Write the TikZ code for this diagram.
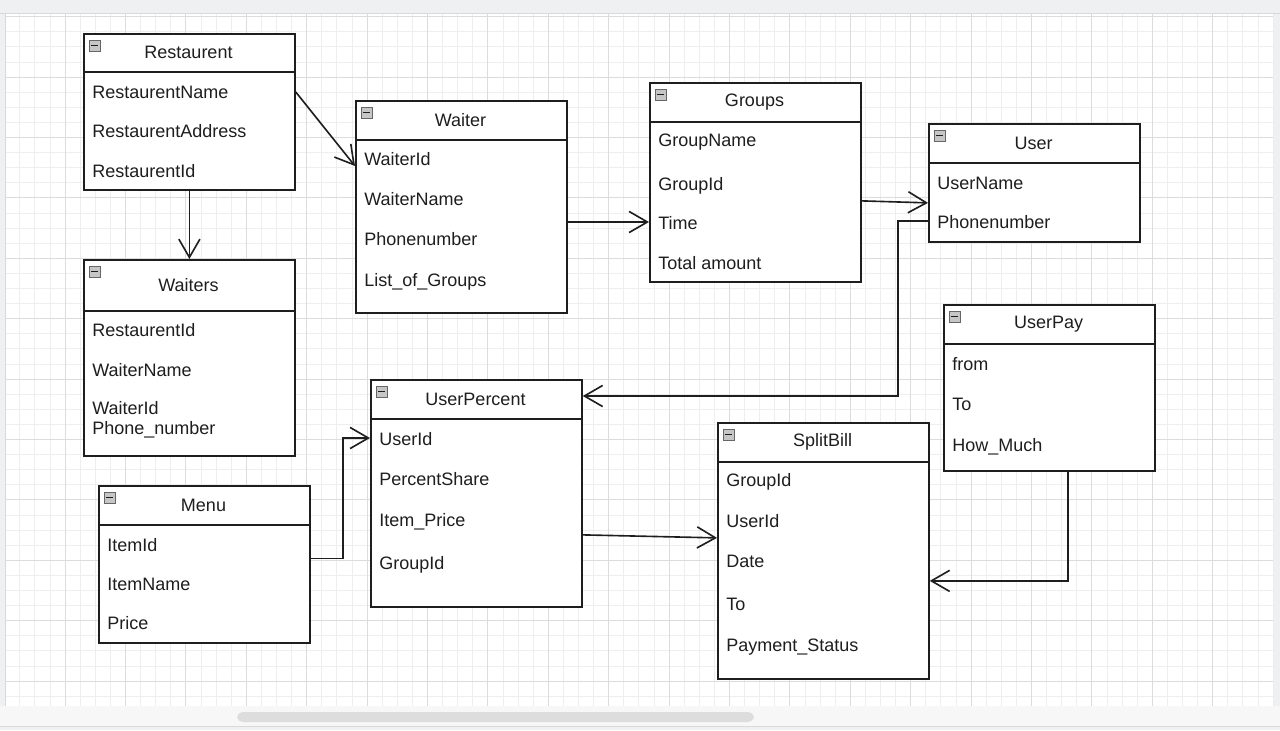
\documentclass[tikz,border=0pt]{standalone}
\usepackage{fontspec}
\setmainfont{Liberation Sans}
\usetikzlibrary{arrows.meta,calc}
\definecolor{frame}{HTML}{EFF0F2}
\definecolor{frameline}{HTML}{D8D9DB}
\definecolor{gridminor}{HTML}{EEEEEE}
\definecolor{gridmajor}{HTML}{DCDCDC}
\definecolor{ink}{HTML}{1E1E1E}
\definecolor{thumb}{HTML}{DDDDDD}
\tikzset{
  umlb/.style={draw=ink, line width=1.25pt, fill=white, inner sep=0pt},
  boxline/.style={draw=ink, line width=1.25pt},
  ttl/.style={font=\fontsize{12.8}{15}\selectfont, text=ink, inner sep=0pt},
  fld/.style={font=\fontsize{12.8}{15}\selectfont, text=ink, inner sep=0pt, anchor=west, align=left},
  icon/.style={draw=gray!80!black, fill=gray!45, line width=0.4pt},
  icondash/.style={draw=ink, line width=1pt},
  conn/.style={draw=ink, line width=1.15pt, -{Straight Barb[length=13pt,width=15pt,line width=1.15pt]}},
}
\newcommand\umlbox[7]{% name, x, y, w, h, title, header height
  \node[umlb, minimum width=#4*0.025cm, minimum height=#5*0.025cm, anchor=north west] (#1) at (#2,#3) {};
  \draw[boxline] (#2,#3+#7) -- (#2+#4,#3+#7);
  \node[ttl] (#1-t) at (#2+#4/2,#3+#7/2) {#6};
  \draw[icon] (#2+6,#3+7) rectangle (#2+17,#3+18);
  \draw[icondash] (#2+8,#3+12.5) -- (#2+15,#3+12.5);
}
\begin{document}
\begin{tikzpicture}[x=0.025cm,y=-0.025cm]
\useasboundingbox (0,0) rectangle (1280,730);
\fill[frame] (0,0) rectangle (1280,730);
\fill[white] (5,14) rectangle (1273,706);
% grid
\begin{scope}
\clip (5,14) rectangle (1273,706);
\foreach \i in {0,...,85} {
  \pgfmathsetmacro\xx{4.6+15.1*\i}
  \pgfmathtruncatemacro\m{mod(\i,4)}
  \ifnum\m=0\else \draw[gridminor, line width=0.5pt] (\xx,14) -- (\xx,706);\fi
}
\foreach \i in {0,...,47} {
  \pgfmathsetmacro\yy{16.6+15.1*\i}
  \pgfmathtruncatemacro\m{mod(\i,4)}
  \ifnum\m=0\else \draw[gridminor, line width=0.5pt] (5,\yy) -- (1273,\yy);\fi
}
\foreach \i in {0,...,21} {
  \pgfmathsetmacro\xx{4.6+60.4*\i}
  \draw[gridmajor, line width=0.5pt] (\xx,14) -- (\xx,706);
}
\foreach \i in {0,...,11} {
  \pgfmathsetmacro\yy{16.6+60.4*\i}
  \draw[gridmajor, line width=0.5pt] (5,\yy) -- (1273,\yy);
}
\end{scope}
\draw[frameline, line width=0.6pt] (0,13) -- (1280,13);
\draw[frameline, line width=0.6pt] (5,14) -- (5,706);
\fill[white!97!black] (0,706) rectangle (1280,726);
\draw[frameline, line width=0.6pt] (0,726) -- (1280,726);
\fill[thumb, rounded corners=4] (237,712) rectangle (754,722);

% boxes
\umlbox{rest}{83}{33}{211}{156}{Restaurent}{39}
\node[fld] (r1) at (92,92) {RestaurentName};
\node[fld] (r2) at (92,131) {RestaurentAddress};
\node[fld] (r3) at (92,171) {RestaurentId};

\umlbox{waiters}{83}{259}{211}{196}{Waiters}{52}
\node[fld] (ws1) at (92,330) {RestaurentId};
\node[fld] (ws2) at (92,370) {WaiterName};
\node[fld, anchor=north west] (ws3) at (92,401) {WaiterId\\[-0.5pt]Phone\_number};

\umlbox{waiter}{355}{100}{211}{212}{Waiter}{40}
\node[fld] (w1) at (364,159) {WaiterId};
\node[fld] (w2) at (364,199) {WaiterName};
\node[fld] (w3) at (364,239) {Phonenumber};
\node[fld] (w4) at (364,282) {List\_of\_Groups};

\umlbox{groups}{649}{82}{211}{199}{Groups}{40}
\node[fld] (g1) at (658,142) {GroupName};
\node[fld] (g2) at (658,186) {GroupId};
\node[fld] (g3) at (658,223) {Time};
\node[fld] (g4) at (658,263) {Total amount};

\umlbox{user}{928}{123}{211}{118}{User}{40}
\node[fld] (u1) at (937,183) {UserName};
\node[fld] (u2) at (937,222) {Phonenumber};

\umlbox{upay}{943}{304}{211}{166}{UserPay}{40}
\node[fld] (p1) at (952,364) {from};
\node[fld] (p2) at (952,404) {To};
\node[fld] (p3) at (952,447) {How\_Much};

\umlbox{upct}{370}{379}{211}{227}{UserPercent}{40}
\node[fld] (c1) at (379,439) {UserId};
\node[fld] (c2) at (379,479) {PercentShare};
\node[fld] (c3) at (379,522) {Item\_Price};
\node[fld] (c4) at (379,565) {GroupId};

\umlbox{split}{717}{422}{211}{256}{SplitBill}{40}
\node[fld] (s1) at (726,482) {GroupId};
\node[fld] (s2) at (726,521) {UserId};
\node[fld] (s3) at (726,561) {Date};
\node[fld] (s4) at (726,604) {To};
\node[fld] (s5) at (726,647) {Payment\_Status};

\umlbox{menu}{98}{485}{211}{157}{Menu}{40}
\node[fld] (m1) at (107,545) {ItemId};
\node[fld] (m2) at (107,584) {ItemName};
\node[fld] (m3) at (107,623) {Price};

% connectors
\draw[conn] (rest.east |- r1) -- ($(waiter.west |- w1)+(0,7)$);
\draw[conn] (rest.south) -- (waiters.north);
\draw[conn] ($(waiter.east |- g3)+(0,-1)$) -- ($(groups.west |- g3)+(0,-1)$);
\draw[conn] ($(groups.east)+(0,18.5)$) -- ($(user.west)+(0,20)$);
\draw[conn] ($(user.west |- u2)+(0,-1)$) -- ++(-30,0) |- ($(upct.north east)+(0,17)$);
\draw[conn] ($(menu.east)+(0,-6)$) -- ++(32,0) |- ($(upct.west |- c1)+(0,-1)$);
\draw[conn] ($(upct.east)+(0,41.5)$) -- ($(split.west)+(0,-13)$);
\draw[conn] ($(upay.south)+(18.5,0)$) |- ($(split.east)+(0,30)$);
\end{tikzpicture}
\end{document}
